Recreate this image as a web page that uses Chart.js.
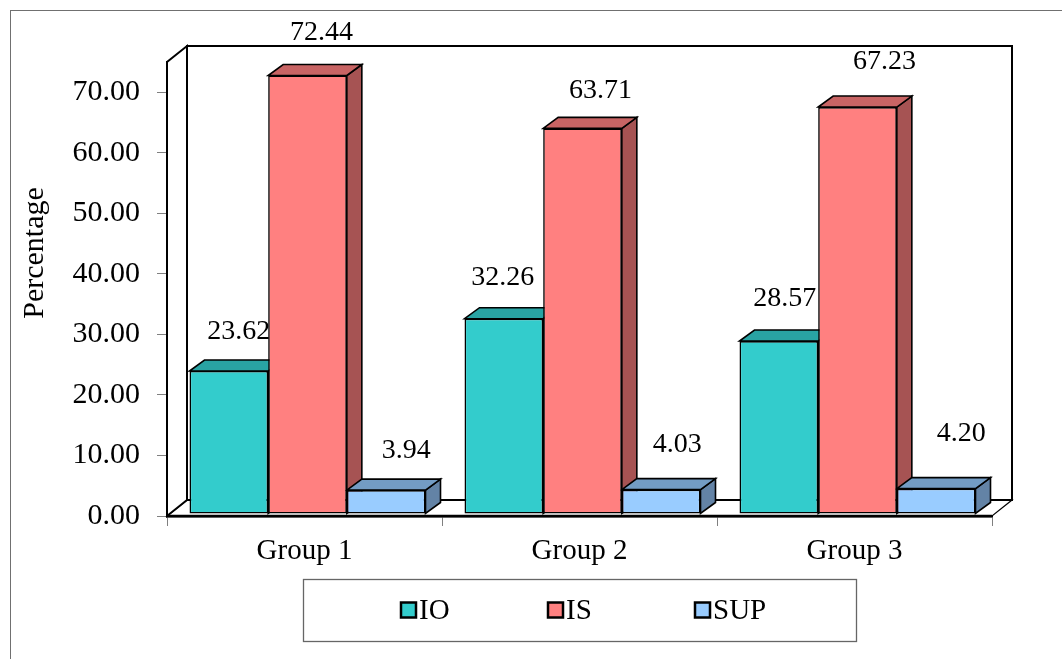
<!DOCTYPE html>
<html>
<head>
<meta charset="utf-8">
<script src="https://cdn.jsdelivr.net/npm/chart.js@4.4.1/dist/chart.umd.min.js"></script>
<style>
  html, body { margin: 0; padding: 0; background: #fff; }
  canvas { display: block; }
</style>
</head>
<body>
<canvas id="chart" width="1062" height="659"></canvas>
<script>
// ---- data ----
const categories = ['Group 1', 'Group 2', 'Group 3'];
const seriesNames = ['IO', 'IS', 'SUP'];
const ioValues = [23.62, 32.26, 28.57];
const isValues = [72.44, 63.71, 67.23];
const supValues = [3.94, 4.03, 4.20];
const yTickValues = [0, 10, 20, 30, 40, 50, 60, 70];
const yAxisMax = 75;

// ---- styling ----
const FONT = "'Liberation Serif', 'Times New Roman', serif";
const faceColors = [
  { front: '#33CCCC', top: '#29A3A3', side: '#1F7A7A' },
  { front: '#FF8080', top: '#C86464', side: '#A65353' },
  { front: '#99CCFF', top: '#739CC4', side: '#6383A6' }
];
// depth of the floor and walls, where the bars stand inside the box, and bar depth
const WALL = { dx: 20, dy: -16 };
const BAR_SHIFT = { dx: 3, dy: -2 };
const BAR_DEPTH = { dx: 15, dy: -11 };
// small hand placement of each value label, [series][category] in px
const labelNudge = [
  [[-4, 1], [-15, -1], [-8, -2]],
  [[0, -2], [4, 3], [13, -5]],
  [[6, 1], [2, -5], [11, -15]]
];

function poly(ctx, pts, fill, lw) {
  ctx.beginPath();
  ctx.moveTo(pts[0][0], pts[0][1]);
  for (let i = 1; i < pts.length; i++) ctx.lineTo(pts[i][0], pts[i][1]);
  ctx.closePath();
  ctx.fillStyle = fill;
  ctx.fill();
  ctx.lineWidth = lw;
  ctx.strokeStyle = '#000';
  ctx.stroke();
}

const box3d = {
  id: 'box3d',
  beforeDatasetsDraw(chart) {
    const { ctx, chartArea: { left, right, top, bottom } } = chart;
    ctx.save();
    ctx.lineJoin = 'miter';
    // floor
    poly(ctx, [[left, bottom], [right, bottom], [right + WALL.dx, bottom + WALL.dy], [left + WALL.dx, bottom + WALL.dy]], '#fff', 1.2);
    // side wall
    poly(ctx, [[left, bottom], [left, top], [left + WALL.dx, top + WALL.dy], [left + WALL.dx, bottom + WALL.dy]], '#fff', 2);
    // back wall
    poly(ctx, [[left + WALL.dx, top + WALL.dy], [right + WALL.dx, top + WALL.dy], [right + WALL.dx, bottom + WALL.dy], [left + WALL.dx, bottom + WALL.dy]], '#fff', 2);
    // front axis line
    ctx.beginPath();
    ctx.moveTo(left, bottom);
    ctx.lineTo(right, bottom);
    ctx.lineWidth = 2.5;
    ctx.stroke();

    // side and top faces of the bars, group by group from left to right
    ctx.translate(BAR_SHIFT.dx, BAR_SHIFT.dy);
    const metas = chart.data.datasets.map((d, i) => chart.getDatasetMeta(i));
    for (let c = 0; c < categories.length; c++) {
      for (let s = 0; s < metas.length; s++) {
        const bar = metas[s].data[c];
        const { x, y, base, width } = bar.getProps(['x', 'y', 'base', 'width'], true);
        const l = x - width / 2, r = x + width / 2;
        const dx = BAR_DEPTH.dx, dy = BAR_DEPTH.dy;
        poly(ctx, [[r, y], [r + dx, y + dy], [r + dx, base + dy], [r, base]], faceColors[s].side, 1.6);
        poly(ctx, [[l, y], [r, y], [r + dx, y + dy], [l + dx, y + dy]], faceColors[s].top, 1.6);
      }
    }
    // the translation stays in place while Chart.js paints the front faces
  },
  afterDatasetsDraw(chart) {
    const { ctx } = chart;
    ctx.restore();
    // value labels above each bar
    ctx.save();
    ctx.font = '28px ' + FONT;
    ctx.fillStyle = '#000';
    ctx.textAlign = 'center';
    ctx.textBaseline = 'alphabetic';
    chart.data.datasets.forEach((ds, s) => {
      chart.getDatasetMeta(s).data.forEach((bar, c) => {
        const { x, y } = bar.getProps(['x', 'y'], true);
        const n = labelNudge[s][c];
        const tx = x + BAR_SHIFT.dx + 14 + n[0];
        const ty = y + BAR_SHIFT.dy + BAR_DEPTH.dy - 22 + n[1];
        ctx.fillText(ds.data[c].toFixed(2), tx, ty);
      });
    });
    ctx.restore();
  },
  afterDraw(chart) {
    const { ctx } = chart;
    ctx.save();
    // outer chart frame
    ctx.strokeStyle = '#707070';
    ctx.lineWidth = 1;
    ctx.strokeRect(10.5, 10.5, 1200, 1200);

    // axis title
    ctx.save();
    ctx.translate(35, 253);
    ctx.rotate(-Math.PI / 2);
    ctx.font = '30px ' + FONT;
    ctx.fillStyle = '#000';
    ctx.textAlign = 'center';
    ctx.textBaseline = 'middle';
    ctx.fillText('Percentage', 0, 0);
    ctx.restore();

    // legend
    const lg = { left: 303, top: 579, width: 553, height: 62 };
    ctx.strokeStyle = '#666';
    ctx.lineWidth = 1.3;
    ctx.strokeRect(lg.left + 0.5, lg.top + 0.5, lg.width, lg.height);
    const colW = 147;
    const cy = lg.top + lg.height / 2;
    ctx.font = '29px ' + FONT;
    ctx.textBaseline = 'middle';
    ctx.textAlign = 'left';
    chart.data.datasets.forEach((ds, i) => {
      const mx = lg.left + 98 + i * colW;
      ctx.fillStyle = ds.backgroundColor;
      ctx.fillRect(mx, cy - 7.5, 15, 15);
      ctx.lineWidth = 2.5;
      ctx.strokeStyle = '#000';
      ctx.strokeRect(mx, cy - 7.5, 15, 15);
      ctx.fillStyle = '#000';
      ctx.fillText(ds.label, mx + 18, cy + 1);
    });
    ctx.restore();
  }
};

const values = [ioValues, isValues, supValues];

new Chart(document.getElementById('chart'), {
  type: 'bar',
  data: {
    labels: categories,
    datasets: seriesNames.map((name, i) => ({
      label: name,
      data: values[i],
      backgroundColor: faceColors[i].front,
      borderColor: '#000',
      borderWidth: 1.6,
      borderSkipped: false,
      clip: false
    }))
  },
  options: {
    responsive: false,
    animation: false,
    events: [],
    layout: { padding: { left: 0, top: 62, right: 70, bottom: 0 }, autoPadding: false },
    datasets: { bar: { categoryPercentage: 236 / 275, barPercentage: 1 } },
    plugins: { legend: { display: false }, tooltip: { enabled: false } },
    scales: {
      x: {
        grid: { offset: true, drawOnChartArea: false, drawTicks: true, tickLength: 10, color: '#808080', lineWidth: 1 },
        border: { display: true, color: '#000', width: 2.5 },
        ticks: { color: '#000', font: { family: FONT, size: 29 }, padding: 8 },
        afterFit(scale) { scale.height = 143; }
      },
      y: {
        min: 0,
        max: yAxisMax,
        afterBuildTicks(scale) { scale.ticks = yTickValues.map(v => ({ value: v })); },
        grid: { drawOnChartArea: false, drawTicks: true, tickLength: 10, color: '#808080', lineWidth: 1 },
        border: { display: true, color: '#000', width: 2 },
        ticks: { color: '#000', font: { family: FONT, size: 30 }, padding: 17, callback: v => Number(v).toFixed(2) },
        afterFit(scale) { scale.width = 167; }
      }
    }
  },
  plugins: [box3d]
});
</script>
</body>
</html>
